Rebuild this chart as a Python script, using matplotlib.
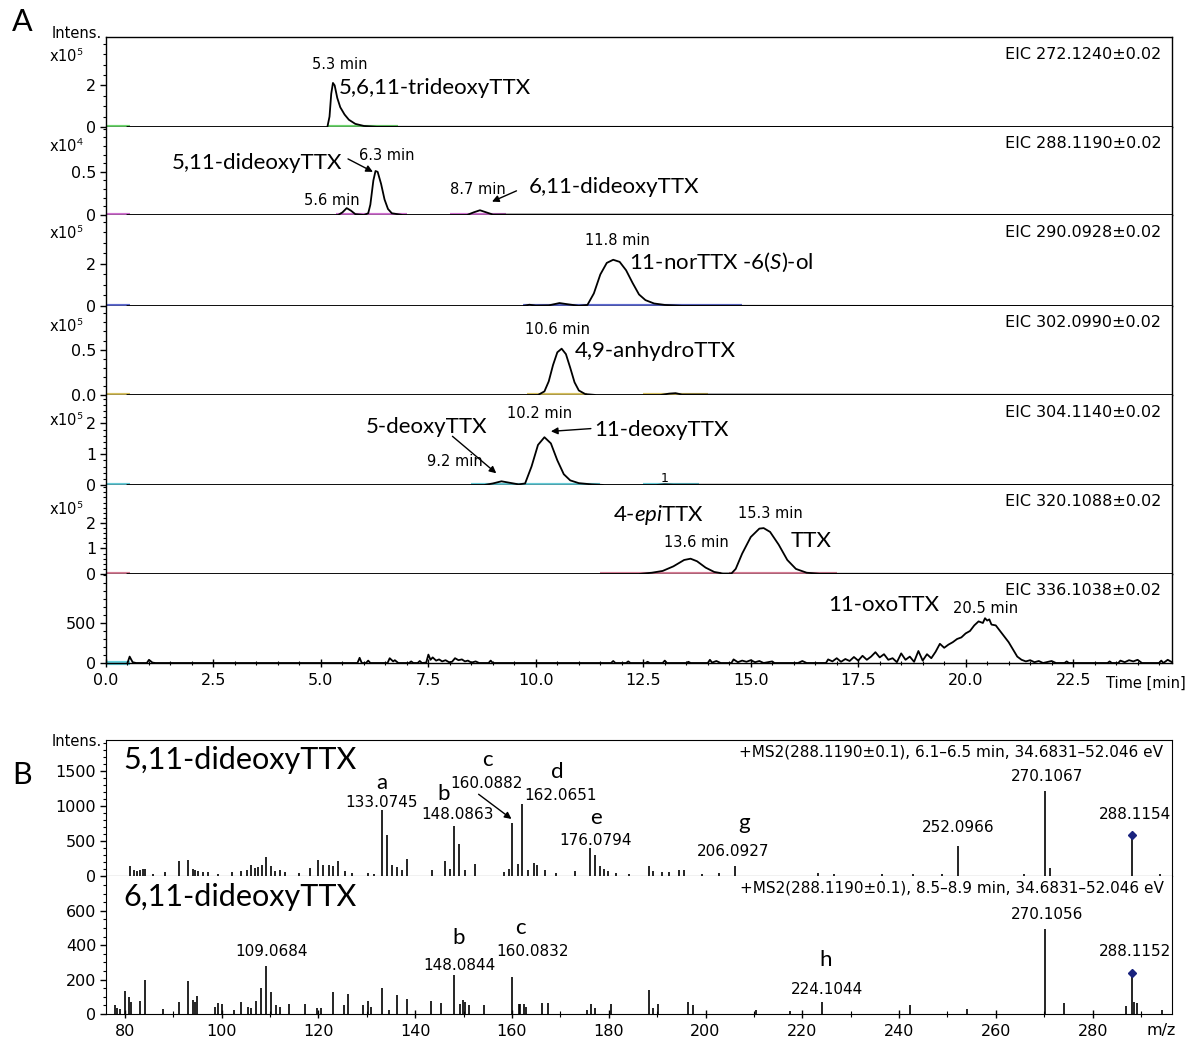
import numpy as np
import matplotlib.pyplot as plt
from matplotlib.ticker import MultipleLocator, FixedLocator

plt.rcParams['mathtext.fontset'] = 'custom'
plt.rcParams['mathtext.rm'] = 'Lato'
plt.rcParams['mathtext.it'] = 'Lato:italic'
plt.rcParams['font.family'] = 'DejaVu Sans'

BIG = 'Lato'

# ---------------- panel A: extracted ion chromatograms ----------------
eic_labels = ['EIC 272.1240\u00b10.02', 'EIC 288.1190\u00b10.02', 'EIC 290.0928\u00b10.02',
              'EIC 302.0990\u00b10.02', 'EIC 304.1140\u00b10.02', 'EIC 320.1088\u00b10.02',
              'EIC 336.1038\u00b10.02']
eic_exp = ['5', '4', '5', '5', '5', '5', None]
eic_ymax = [4.33, 1.02, 4.33, 0.98, 2.92, 3.49, 1112]
eic_yticks = [[0, 2], [0, 0.5], [0, 2], [0.0, 0.5], [0, 1, 2], [0, 1, 2], [0, 500]]
eic_yticklabels = [['0', '2'], ['0', '0.5'], ['0', '2'], ['0.0', '0.5'], ['0', '1', '2'],
                   ['0', '1', '2'], ['0', '500']]
eic_minor = [0.5, 0.1, 0.5, 0.1, 0.2, 0.2, 100]
eic_colors = ['#3cc83c', '#c040c0', '#2838c0', '#c8aa28', '#30b8c8', '#c85070', '#30c0d0']
eic_spans = [[(0, 0.55), (5.15, 6.8)],
             [(0, 0.55), (5.35, 7.0), (8.0, 9.3)],
             [(0, 0.55), (9.7, 14.8)],
             [(0, 0.55), (9.8, 11.2), (12.5, 14.0)],
             [(0, 0.55), (8.5, 11.5), (12.5, 13.8)],
             [(0, 0.55), (11.5, 14.3), (14.5, 17.0)],
             [(0, 0.55)]]

# retention time (min) / intensity pairs
t1 = [0.5, 5.15, 5.2, 5.24, 5.28, 5.32, 5.38, 5.45, 5.55, 5.65, 5.8, 6.0, 6.3, 24.8]
i1 = [0, 0, 0.5, 1.6, 2.12, 2.0, 1.4, 0.95, 0.6, 0.35, 0.15, 0.05, 0.01, 0]

t2 = [0.5, 5.4, 5.5, 5.6, 5.7, 5.8, 6.0, 6.1, 6.15, 6.22, 6.27, 6.32, 6.4, 6.48, 6.56,
      6.65, 6.9, 8.4, 8.55, 8.7, 8.85, 9.0, 24.8]
i2 = [0, 0, 0.03, 0.08, 0.05, 0.01, 0, 0.02, 0.12, 0.4, 0.51, 0.5, 0.36, 0.18, 0.07,
      0.02, 0, 0, 0.03, 0.055, 0.03, 0.005, 0]

t3 = [0.5, 9.7, 9.85, 10.0, 10.3, 10.55, 10.75, 11.0, 11.2, 11.35, 11.5, 11.65, 11.8,
      11.95, 12.1, 12.25, 12.4, 12.55, 12.75, 13.0, 13.4, 24.8]
i3 = [0, 0, 0.06, 0.02, 0.03, 0.14, 0.08, 0.01, 0.05, 0.6, 1.5, 2.05, 2.2,
      2.1, 1.7, 1.1, 0.55, 0.28, 0.12, 0.05, 0.01, 0]

t4 = [0.5, 10.05, 10.2, 10.3, 10.4, 10.5, 10.6, 10.7, 10.8, 10.9, 11.0, 11.15, 11.4,
      12.9, 13.1, 13.25, 13.4, 24.8]
i4 = [0, 0, 0.04, 0.15, 0.33, 0.47, 0.51, 0.45, 0.3, 0.14, 0.05, 0.01, 0,
      0, 0.015, 0.02, 0.005, 0]

t5 = [0.5, 8.8, 9.0, 9.2, 9.4, 9.6, 9.75, 9.9, 10.05, 10.2, 10.35, 10.5, 10.65, 10.8,
      11.0, 11.3, 11.6, 12.8, 13.0, 13.2, 24.8]
i5 = [0, 0, 0.05, 0.12, 0.07, 0.02, 0.05, 0.6, 1.3, 1.55, 1.35, 0.8, 0.35, 0.15,
      0.06, 0.02, 0, 0, 0.02, 0.01, 0]

t6 = [0.5, 12.4, 12.7, 12.95, 13.2, 13.45, 13.6, 13.75, 13.95, 14.15, 14.35, 14.55, 14.65,
      14.8, 15.0, 15.2, 15.3, 15.45, 15.65, 15.85, 16.05, 16.3, 16.6, 24.8]
i6 = [0, 0, 0.05, 0.12, 0.3, 0.55, 0.6, 0.5, 0.25, 0.08, 0.02, 0.02, 0.2,
      0.8, 1.45, 1.78, 1.8, 1.65, 1.15, 0.55, 0.2, 0.05, 0.01, 0]

t7 = [0.5, 0.55, 0.62, 0.7, 0.95, 1.0, 1.08, 1.15, 5.85, 5.9, 5.95, 6.05, 6.1, 6.15,
      6.55, 6.6, 6.68, 6.72, 6.8, 7.05, 7.1, 7.15, 7.25, 7.3, 7.35, 7.45, 7.5, 7.55,
      7.6, 7.68, 7.75, 7.82, 7.9, 7.98, 8.05, 8.12, 8.2, 8.28, 8.35, 8.42, 8.5, 8.6,
      8.68, 8.9, 8.95, 9.0, 11.75, 11.8, 11.85, 12.1, 12.15, 12.2, 12.55, 12.6, 12.65,
      12.95, 13.0, 13.05, 13.5, 13.55, 13.6, 14.0, 14.05, 14.1, 14.2, 14.3, 14.55, 14.6,
      14.7, 14.8, 14.9, 15.0, 15.1, 15.2, 15.3, 15.5, 15.55, 16.1, 16.2, 16.3, 16.75,
      16.8, 16.9, 17.0, 17.1, 17.2, 17.3, 17.4, 17.5, 17.6, 17.7, 17.8, 17.9, 18.0,
      18.1, 18.2, 18.3, 18.4, 18.5, 18.6, 18.7, 18.8, 18.9, 19.0, 19.1, 19.2, 19.3,
      19.4, 19.5, 19.6, 19.7, 19.8, 19.9, 20.0, 20.1, 20.2, 20.3, 20.4, 20.45, 20.5,
      20.55, 20.6, 20.7, 20.8, 20.9, 21.0, 21.1, 21.2, 21.3, 21.4, 21.5, 21.6, 21.7,
      21.8, 22.0, 22.1, 22.3, 22.35, 22.4, 23.3, 23.35, 23.4, 23.55, 23.6, 23.7, 23.8,
      23.9, 24.0, 24.1, 24.5, 24.55, 24.6, 24.7, 24.8]
i7 = [0, 80, 10, 0, 0, 40, 5, 0, 0, 65, 0, 0, 30, 0,
      0, 60, 20, 35, 0, 0, 20, 0, 0, 25, 0, 5, 105, 40,
      70, 30, 45, 20, 35, 10, 15, 60, 35, 45, 20, 30, 5, 20,
      0, 0, 30, 0, 0, 25, 0, 0, 20, 0, 0, 15, 0,
      0, 30, 0, 0, 15, 0, 0, 40, 5, 25, 0, 0, 45,
      10, 30, 15, 35, 10, 25, 0, 20, 0, 0, 25, 0, 0,
      45, 20, 60, 15, 50, 25, 75, 30, 90, 40, 80, 135, 70,
      110, 40, 60, 10, 120, 40, 80, 15, 150, 30, 110, 60, 140,
      240, 190, 230, 260, 300, 320, 370, 400, 470, 520, 500, 560, 530,
      545, 480, 470, 400, 330, 260, 170, 80, 40, 20, 35, 10, 25,
      0, 25, 0, 0, 20, 0, 0, 20, 0, 0, 30, 10, 35,
      20, 40, 0, 0, 30, 0, 40, 10]

eic_t = [t1, t2, t3, t4, t5, t6, t7]
eic_i = [i1, i2, i3, i4, i5, i6, i7]

# ---------------- panel B: MS/MS spectra ----------------
ms1_mz = [81.0, 81.9, 82.6, 83.1, 83.8, 84.1, 85.9, 88.3, 91.1, 93.1, 94.0, 94.5, 95.2,
          96.2, 97.2, 99.3, 102.1, 104.1, 105.2, 106.1, 106.8, 107.6, 108.3, 109.1, 110.1,
          111.0, 112.1, 113.1, 115.9, 118.3, 120.0, 121.0, 122.1, 123.1, 124.1, 125.5,
          126.9, 130.3, 131.4, 133.0745, 134.1, 135.3, 136.3, 137.2, 138.3, 143.4, 146.2,
          147.2, 148.0863, 149.1, 150.3, 152.3, 158.3, 159.3, 160.0882, 161.2, 162.0651,
          163.3, 164.5, 165.2, 166.9, 169.0, 173.1, 176.0794, 177.1, 178.1, 179.0, 179.9,
          181.4, 184.1, 188.3, 189.1, 191.0, 192.4, 194.5, 195.5, 199.3, 202.8, 206.0927,
          223.3, 226.6, 236.5, 242.9, 248.8, 252.0966, 265.8, 270.1067, 271.1, 288.1154,
          294.0]
ms1_int = [143, 80, 67, 80, 95, 105, 33, 57, 210, 224, 105, 80, 67,
           57, 57, 33, 57, 67, 80, 162, 114, 129, 152, 271, 143,
           67, 80, 57, 48, 114, 233, 152, 162, 143, 210, 67,
           48, 48, 33, 950, 590, 152, 129, 80, 248, 80, 210,
           105, 724, 462, 80, 176, 57, 105, 757, 176, 1033,
           80, 190, 152, 80, 48, 67, 405, 295, 143, 105, 67,
           48, 33, 143, 67, 57, 57, 80, 80, 33, 48, 138,
           48, 29, 29, 29, 29, 433, 29, 1220, 110, 585,
           29]

ms2_mz = [77.9, 78.3, 79.0, 80.0, 80.9, 81.2, 83.1, 84.1, 87.9, 91.2, 93.0, 94.0, 94.5,
          95.0, 98.6, 99.2, 100.1, 102.6, 104.1, 105.5, 106.1, 107.2, 108.1, 109.0684,
          110.1, 111.2, 112.1, 114.0, 117.2, 119.7, 120.6, 123.1, 125.2, 126.2, 129.3,
          130.2, 130.9, 133.2, 134.5, 136.2, 138.3, 143.3, 145.3, 148.0844, 149.3, 149.9,
          150.2, 151.2, 154.3, 160.0832, 161.4, 161.7, 162.4, 162.9, 166.3, 167.4, 175.5,
          176.4, 177.1, 180.5, 188.3, 189.1, 190.2, 196.4, 197.5, 210.4, 217.4, 224.1044,
          242.2, 254.0, 270.1056, 274.0, 286.9, 288.1152, 288.6, 289.2, 294.4]
ms2_int = [52, 33, 28, 135, 98, 70, 76, 200, 28, 70, 190, 80, 70,
           102, 43, 65, 61, 24, 70, 39, 33, 76, 150, 280,
           130, 52, 43, 61, 61, 37, 37, 130, 52, 117, 52,
           76, 43, 150, 24, 111, 89, 76, 65, 224, 61, 80,
           70, 52, 52, 215, 61, 61, 56, 43, 65, 65, 24,
           56, 33, 56, 141, 37, 61, 70, 52, 24, 15, 68,
           55, 31, 495, 63, 44, 240, 68, 63, 26]

ms_precursor = [288.1154, 288.1152]

W, H = 1190, 1044
fig = plt.figure(figsize=(W / 100, H / 100), dpi=100)
L, R = 106 / W, 1172 / W

row_top = [37, 127, 215, 306, 395, 485, 574]
row_bot = [127, 215, 306, 395, 485, 574, 663]
exp_y = [0.78, 0.78, 0.80, 0.77, 0.72, 0.73]

axA = []
for k in range(7):
    ax = fig.add_axes([L, 1 - row_bot[k] / H, R - L, (row_bot[k] - row_top[k]) / H])
    axA.append(ax)
    for a, b in eic_spans[k]:
        ax.plot([a, b], [0, 0], color=eic_colors[k], lw=3, alpha=0.75,
                solid_capstyle='butt', clip_on=False, zorder=1)
    ax.plot(eic_t[k], eic_i[k], color='black', lw=1.3, clip_on=False, zorder=3)
    ax.set_xlim(0, 24.8)
    ax.set_ylim(0, eic_ymax[k])
    ax.yaxis.set_major_locator(FixedLocator(eic_yticks[k]))
    ax.set_yticklabels(eic_yticklabels[k])
    ax.yaxis.set_minor_locator(MultipleLocator(eic_minor[k]))
    ax.tick_params(axis='y', which='major', direction='out', length=4, width=1,
                   pad=3, labelsize=11.5)
    ax.tick_params(axis='y', which='minor', direction='out', length=2, width=0.8)
    ax.spines['top'].set_visible(k == 0)
    for s in ax.spines.values():
        s.set_linewidth(1.0)
    ax.text(0.99, 0.81, eic_labels[k], transform=ax.transAxes, ha='right', va='center',
            fontsize=11.5)
    if eic_exp[k]:
        ax.text(-0.021, exp_y[k], 'x10$^{%s}$' % eic_exp[k], transform=ax.transAxes,
                ha='right', va='center', fontsize=10.5)
    if k < 6:
        ax.tick_params(axis='x', which='both', bottom=False, labelbottom=False)

axb = axA[6]
axb.xaxis.set_minor_locator(MultipleLocator(0.5))
axb.set_xticks([0, 2.5, 5, 7.5, 10, 12.5, 15, 17.5, 20, 22.5])
axb.set_xticklabels(['0.0', '2.5', '5.0', '7.5', '10.0', '12.5', '15.0', '17.5', '20.0', '22.5'])
axb.tick_params(axis='x', which='major', direction='inout', length=6, width=1, pad=4,
                labelsize=11.5)
axb.tick_params(axis='x', which='minor', direction='inout', length=3, width=0.8)
fig.text(1106 / W, 1 - 683 / H, 'Time [min]', ha='left', va='center', fontsize=10.5)

fig.text(12 / W, 1 - 22 / H, 'A', fontsize=22, family=BIG, va='center')
fig.text(102 / W, 1 - 34 / H, 'Intens.', fontsize=10.5, ha='right', va='center')

small = dict(fontsize=10.5, ha='center', va='center')
big = dict(fontsize=16, family=BIG, va='center')
arrow = dict(arrowstyle='-|>', color='black', lw=1.0, mutation_scale=10,
             shrinkA=0, shrinkB=0)

ax = axA[0]
ax.text(5.44, 3.0, '5.3 min', **small)
ax.text(5.42, 1.9, '5,6,11-trideoxyTTX', ha='left', **big)

ax = axA[1]
ax.text(6.53, 0.69, '6.3 min', **small)
ax.text(5.5, 0.60, '5,11-dideoxyTTX', ha='right', **big)
ax.annotate('', xy=(6.21, 0.50), xytext=(5.63, 0.65), arrowprops=arrow)
ax.text(5.26, 0.17, '5.6 min', **small)
ax.text(8.65, 0.30, '8.7 min', **small)
ax.annotate('', xy=(8.98, 0.155), xytext=(9.55, 0.28), arrowprops=arrow)
ax.text(9.84, 0.33, '6,11-dideoxyTTX', ha='left', **big)

ax = axA[2]
ax.text(11.9, 3.1, '11.8 min', **small)
ax.text(12.16, 2.1, '11-norTTX -6($\\it{S}$)-ol', ha='left', **big)

ax = axA[3]
ax.text(10.51, 0.72, '10.6 min', **small)
ax.text(10.9, 0.48, '4,9-anhydroTTX', ha='left', **big)

ax = axA[4]
ax.text(10.09, 2.33, '10.2 min', **small)
ax.text(7.47, 1.87, '5-deoxyTTX', ha='center', **big)
ax.text(8.12, 0.75, '9.2 min', **small)
ax.annotate('', xy=(9.08, 0.38), xytext=(8.06, 1.58), arrowprops=arrow)
ax.annotate('', xy=(10.35, 1.74), xytext=(11.28, 1.83), arrowprops=arrow)
ax.text(11.35, 1.80, '11-deoxyTTX', ha='left', **big)
ax.text(13.0, 0.2, '1', fontsize=9, ha='center', va='center')

ax = axA[5]
ax.text(12.86, 2.31, '4-$\\it{epi}$TTX', ha='center', **big)
ax.text(15.45, 2.38, '15.3 min', **small)
ax.text(13.74, 1.23, '13.6 min', **small)
ax.text(16.4, 1.29, 'TTX', ha='center', **big)

ax = axA[6]
ax.text(18.1, 725, '11-oxoTTX', ha='center', **big)
ax.text(20.47, 683, '20.5 min', **small)

# ---------------- panel B ----------------
B_top = [740, 876]
B_bot = [876, 1014]
B_ymax = [1950, 802]
B_yticks = [[0, 500, 1000, 1500], [0, 200, 400, 600]]
B_minor = [100, 50]
ms_mz = [ms1_mz, ms2_mz]
ms_int = [ms1_int, ms2_int]
ms_titles = ['5,11-dideoxyTTX', '6,11-dideoxyTTX']
ms_headers = ['+MS2(288.1190\u00b10.1), 6.1\u20136.5 min, 34.6831\u201352.046 eV',
              '+MS2(288.1190\u00b10.1), 8.5\u20138.9 min, 34.6831\u201352.046 eV']

axB = []
for k in range(2):
    ax = fig.add_axes([L, 1 - B_bot[k] / H, R - L, (B_bot[k] - B_top[k]) / H])
    axB.append(ax)
    ax.vlines(ms_mz[k], 0, ms_int[k], color='black', lw=1.2)
    j = ms_mz[k].index(ms_precursor[k])
    ax.plot(ms_precursor[k], ms_int[k][j], marker='D', color='#1a237e', ms=4.5)
    ax.set_xlim(76.1, 296.4)
    ax.set_ylim(0, B_ymax[k])
    ax.set_yticks(B_yticks[k])
    ax.yaxis.set_minor_locator(MultipleLocator(B_minor[k]))
    ax.tick_params(axis='y', which='major', direction='out', length=4, width=1,
                   pad=3, labelsize=11.5)
    ax.tick_params(axis='y', which='minor', direction='out', length=2, width=0.8)
    ax.spines['top'].set_visible(k == 0)
    ax.text(0.016, 0.85, ms_titles[k], transform=ax.transAxes, ha='left', va='center',
            fontsize=22, family=BIG)
    ax.text(0.992, 0.91, ms_headers[k], transform=ax.transAxes, ha='right', va='center',
            fontsize=11)

axB[0].tick_params(axis='x', which='both', bottom=False, labelbottom=False)
ax = axB[1]
ax.xaxis.set_major_locator(MultipleLocator(20))
ax.xaxis.set_minor_locator(MultipleLocator(10))
ax.tick_params(axis='x', which='major', direction='inout', length=6, width=1, pad=4,
               labelsize=11.5)
ax.tick_params(axis='x', which='minor', direction='inout', length=4, width=0.8)
fig.text(1161 / W, 1 - 1031 / H, 'm/z', ha='center', va='center', fontsize=11.5)

fig.text(12 / W, 1 - 775 / H, 'B', fontsize=22, family=BIG, va='center')
fig.text(102 / W, 1 - 742 / H, 'Intens.', fontsize=10.5, ha='right', va='center')

letter = dict(fontsize=16, family=BIG, ha='center', va='center')
num = dict(fontsize=11, ha='center', va='center')

ax = axB[0]
ax.text(133.07, 1335, 'a', **letter)
ax.text(133.06, 1055, '133.0745', **num)
ax.text(145.8, 1177, 'b', **letter)
ax.text(148.8, 884, '148.0863', **num)
ax.text(155.0, 1664, 'c', **letter)
ax.text(154.8, 1330, '160.0882', **num)
ax.annotate('', xy=(159.9, 818), xytext=(153.1, 1172), arrowprops=arrow)
ax.text(169.3, 1495, 'd', **letter)
ax.text(170.1, 1148, '162.0651', **num)
ax.text(177.3, 827, 'e', **letter)
ax.text(177.2, 516, '176.0794', **num)
ax.text(208.0, 755, 'g', **letter)
ax.text(205.7, 349, '206.0927', **num)
ax.text(252.3, 699, '252.0966', **num)
ax.text(270.6, 1423, '270.1067', **num)
ax.text(288.8, 875, '288.1154', **num)

ax = axB[1]
ax.text(110.3, 362, '109.0684', **num)
ax.text(148.9, 440, 'b', **letter)
ax.text(149.2, 279, '148.0844', **num)
ax.text(161.8, 498, 'c', **letter)
ax.text(164.3, 362, '160.0832', **num)
ax.text(224.8, 314, 'h', **letter)
ax.text(225.0, 140, '224.1044', **num)
ax.text(270.6, 580, '270.1056', **num)
ax.text(288.8, 362, '288.1152', **num)

plt.savefig('out.png', dpi=100)
